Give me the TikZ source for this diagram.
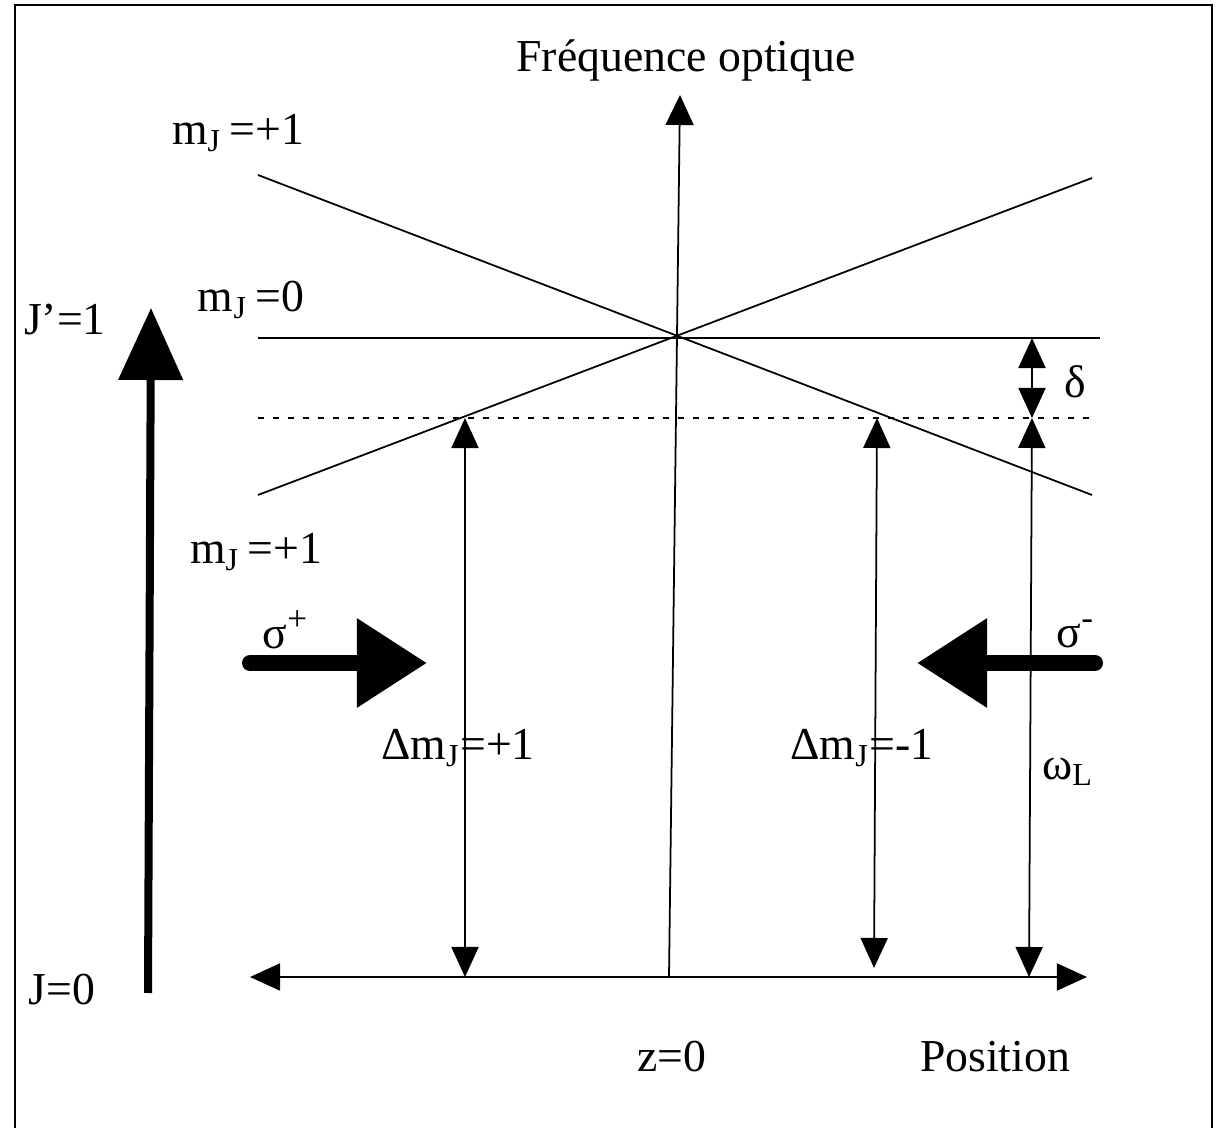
\documentclass[tikz,border=0pt]{standalone}
\usepackage{fontspec}
\setmainfont{Liberation Serif}
\usetikzlibrary{arrows.meta}
\begin{document}
\begin{tikzpicture}[x=0.01cm, y=-0.01cm, every node/.style={font=\fontsize{13}{15}\selectfont, inner sep=0pt},
    level/.style={line width=0.5pt},
    trans/.style={line width=0.5pt, {Triangle[length=0.3cm,width=0.27cm]}-{Triangle[length=0.3cm,width=0.27cm]}},
    beam/.style={line width=0.16cm, line cap=round, -{Triangle[length=0.7cm,width=0.85cm]}}]
            \useasboundingbox (0,0) rectangle (1227,1128);
            \draw[line width=0.6pt] (15,1128) |- (1212,5) -- (1212,1128);

            \coordinate (zo) at (669,977);
            \coordinate (ftop) at (680,95);
            \coordinate (pleft) at (250,977);
            \coordinate (pright) at (1087,977);
            \draw[line width=0.5pt, -{Triangle[length=0.3cm,width=0.28cm]}] (zo) -- (ftop);
            \draw[trans] (pleft) -- (pright);

            \coordinate (up1) at (258,175);
            \coordinate (up2) at (1092,495);
            \coordinate (lo1) at (258,495);
            \coordinate (lo2) at (1092,178);
            \coordinate (ze1) at (258,338);
            \coordinate (ze2) at (1100,338);
            \coordinate (la1) at (258,418);
            \coordinate (la2) at (1092,418);
            \draw[level] (up1) -- (up2);
            \draw[level] (lo1) -- (lo2);
            \draw[level] (ze1) -- (ze2);
            \draw[level, dash pattern=on 0.06cm off 0.09cm] (la1) -- (la2);

            \coordinate (p1) at (465,418);
            \coordinate (q1) at (465,977);
            \coordinate (p2) at (877,418);
            \coordinate (q2) at (874,968);
            \coordinate (p3) at (1032,418);
            \coordinate (q3) at (1029,977);
            \coordinate (d1) at (1032,338);
            \draw[trans] (p1) -- (q1);
            \draw[trans] (p2) -- (q2);
            \draw[trans] (p3) -- (q3);
            \draw[trans] (d1) -- (p3);

            \coordinate (jlow) at (148,993);
            \coordinate (jhigh) at (151,308);
            \draw[line width=0.08cm, -{Triangle[length=0.72cm,width=0.63cm]}] (jlow) -- (jhigh);

            \coordinate (sp1) at (250,663);
            \coordinate (sp2) at (427,663);
            \coordinate (sm1) at (1095,663);
            \coordinate (sm2) at (917,663);
            \draw[beam] (sp1) -- (sp2);
            \draw[beam] (sm1) -- (sm2);

            \node (freq) at (686,60) {Fréquence optique};
            \node (mjup) at (238,133) {m\textsubscript{J}\,=+1};
            \node (mjzero) at (251,300) {m\textsubscript{J}\,=0};
            \node (mjlow) at (256,552) {m\textsubscript{J}\,=+1};
            \node (jprime) at (65,320) {J'=1};
            \node (jzero) at (62,990) {J=0};
            \node (sigp) at (285,630) {σ\raisebox{0.4em}{\fontsize{10}{12}\selectfont +}};
            \node (sigm) at (1075,634) {σ\raisebox{0.4em}{\fontsize{10}{12}\selectfont -}};
            \node (delta) at (1075,382) {δ};
            \node (dmp) at (458,748) {Δm\textsubscript{J}=+1};
            \node (dmm) at (862,748) {Δm\textsubscript{J}=-1};
            \node (omegal) at (1068,772) {ω\textsubscript{L}};
            \node (zzero) at (672,1057) {z=0};
            \node (pos) at (995,1057) {Position};
        \end{tikzpicture}
\end{document}
